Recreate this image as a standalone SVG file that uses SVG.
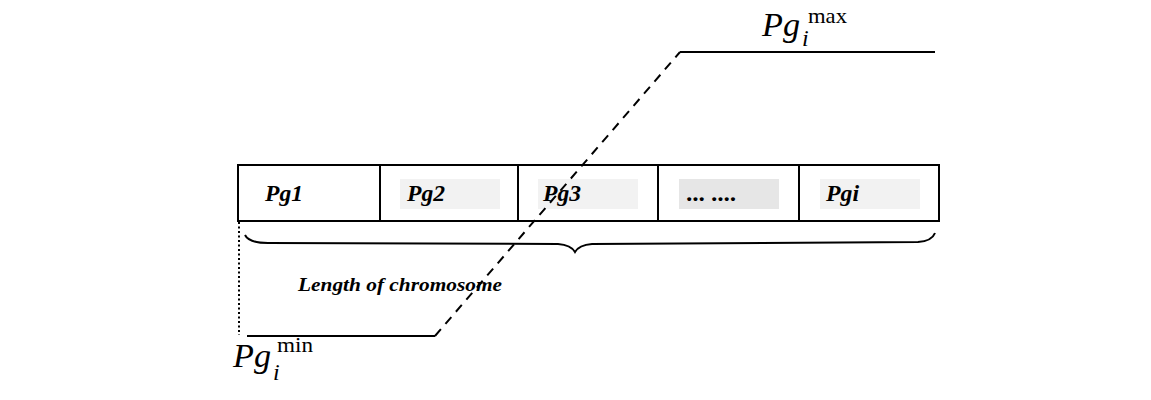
<svg xmlns="http://www.w3.org/2000/svg" width="1151" height="400" viewBox="0 0 1151 400">
<style>
.cell{fill:#ffffff;stroke:#000;stroke-width:2}
.lbl{font-family:"Liberation Serif","Times New Roman",serif;font-style:italic;font-weight:bold;font-size:23px;fill:#000}
.math{font-family:"Liberation Serif","Times New Roman",serif;fill:#000}
.line{fill:none;stroke:#000;stroke-width:2}
</style>
<rect width="1151" height="400" fill="#ffffff"/>
<g id="chromosome">
<g id="cell-pg1"><rect class="cell" x="238" y="165" width="142" height="56"/><text class="lbl" x="265" y="201" textLength="38" lengthAdjust="spacingAndGlyphs">Pg1</text></g>
<g id="cell-pg2"><rect class="cell" x="380" y="165" width="138" height="56"/><rect x="400" y="179" width="100" height="30" fill="#f2f2f2"/><text class="lbl" x="407" y="201" textLength="38" lengthAdjust="spacingAndGlyphs">Pg2</text></g>
<g id="cell-pg3"><rect class="cell" x="518" y="165" width="140" height="56"/><rect x="538" y="179" width="100" height="30" fill="#f2f2f2"/><text class="lbl" x="543" y="201" textLength="38" lengthAdjust="spacingAndGlyphs">Pg3</text></g>
<g id="cell-dots"><rect class="cell" x="658" y="165" width="141" height="56"/><rect x="679" y="179" width="100" height="30" fill="#e6e6e6"/><text class="lbl" x="687" y="201" textLength="50" lengthAdjust="spacingAndGlyphs">... ....</text></g>
<g id="cell-pgi"><rect class="cell" x="799" y="165" width="140" height="56"/><rect x="820" y="179" width="100" height="30" fill="#f2f2f2"/><text class="lbl" x="826" y="201" textLength="33" lengthAdjust="spacingAndGlyphs">Pgi</text></g>
</g>
<g id="connectors">
<path class="line" stroke-width="2.5" d="M245 235 Q249 243 268 243 L558 244 Q571 245 575 252 Q579 245 592 244 L918 242 Q932 241 935 233"/>
<line x1="239" y1="222" x2="239" y2="335" stroke="#000" stroke-width="2" stroke-dasharray="2 2.5"/>
<line class="line" x1="247" y1="336" x2="435" y2="336"/>
<line class="line" x1="680" y1="52" x2="935" y2="52"/>
<line class="line" x1="435" y1="336" x2="680" y2="52" stroke-dasharray="9 7"/>
</g>
<g id="label-length"><text class="lbl" x="298" y="291" textLength="204" lengthAdjust="spacingAndGlyphs" style="font-size:19px">Length of chromosome</text></g>
<g id="label-max">
<text class="math" x="762" y="36" font-size="34" font-style="italic" textLength="38" lengthAdjust="spacingAndGlyphs">Pg</text>
<text class="math" x="802" y="46" font-size="24" font-style="italic">i</text>
<text class="math" x="808" y="23" font-size="22" textLength="39" lengthAdjust="spacingAndGlyphs">max</text>
</g>
<g id="label-min">
<text class="math" x="233" y="367" font-size="34" font-style="italic" textLength="38" lengthAdjust="spacingAndGlyphs">Pg</text>
<text class="math" x="273" y="380" font-size="24" font-style="italic">i</text>
<text class="math" x="277" y="352" font-size="22" textLength="36" lengthAdjust="spacingAndGlyphs">min</text>
</g>
</svg>
